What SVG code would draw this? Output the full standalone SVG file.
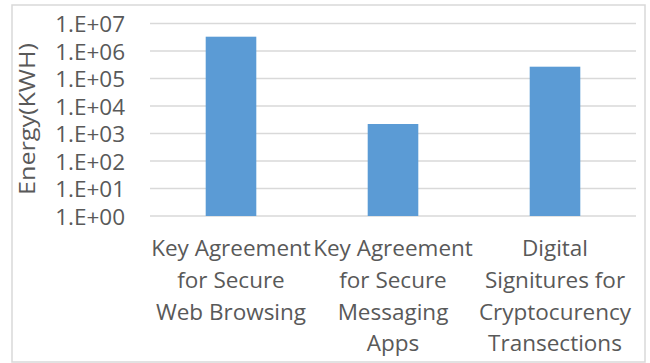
<svg xmlns="http://www.w3.org/2000/svg" width="650" height="363" viewBox="0 0 650 363">
  <style>
    .frame { fill: #ffffff; stroke: #d9d9d9; stroke-width: 1.5; }
    .grid { stroke: #d9d9d9; stroke-width: 1.5; fill: none; }
    .bar { fill: #5b9bd5; }
    .tick { font-family: "Open Sans", "Liberation Sans", sans-serif; font-size: 22.5px; fill: #595959; text-anchor: end; }
    .cat { font-family: "Open Sans", "Liberation Sans", sans-serif; font-size: 22.5px; fill: #595959; text-anchor: middle; }
    .title { font-family: "Open Sans", "Liberation Sans", sans-serif; font-size: 21px; fill: #595959; text-anchor: middle; }
  </style>
  <rect class="frame" x="12" y="5" width="633" height="357"/>

  <!-- horizontal gridlines, one per decade -->
  <g id="gridlines">
    <line class="grid" x1="150" y1="23.5" x2="636" y2="23.5"/>
    <line class="grid" x1="150" y1="51" x2="636" y2="51"/>
    <line class="grid" x1="150" y1="78.5" x2="636" y2="78.5"/>
    <line class="grid" x1="150" y1="106" x2="636" y2="106"/>
    <line class="grid" x1="150" y1="133.5" x2="636" y2="133.5"/>
    <line class="grid" x1="150" y1="161" x2="636" y2="161"/>
    <line class="grid" x1="150" y1="188.5" x2="636" y2="188.5"/>
    <line class="grid" x1="150" y1="216" x2="636" y2="216"/>
  </g>

  <!-- y-axis labels -->
  <g id="y-axis">
    <text class="tick" x="125" y="32">1.E+07</text>
    <text class="tick" x="125" y="59.5">1.E+06</text>
    <text class="tick" x="125" y="87">1.E+05</text>
    <text class="tick" x="125" y="114.5">1.E+04</text>
    <text class="tick" x="125" y="142">1.E+03</text>
    <text class="tick" x="125" y="169.5">1.E+02</text>
    <text class="tick" x="125" y="197">1.E+01</text>
    <text class="tick" x="125" y="224.5">1.E+00</text>
    <text class="title" transform="translate(35,119) rotate(-90)" textLength="152" lengthAdjust="spacingAndGlyphs">Energy(KWH)</text>
  </g>

  <!-- bars -->
  <g id="bar-web">
    <rect class="bar" x="205.7" y="36.7" width="50.6" height="179.3"/>
  </g>
  <g id="bar-messaging">
    <rect class="bar" x="367.7" y="124" width="50.6" height="92"/>
  </g>
  <g id="bar-crypto">
    <rect class="bar" x="529.7" y="66.7" width="50.6" height="149.3"/>
  </g>

  <!-- category labels -->
  <g id="label-web">
    <text class="cat" x="231" y="256">Key Agreement</text>
    <text class="cat" x="231" y="288">for Secure</text>
    <text class="cat" x="231" y="319.5">Web Browsing</text>
  </g>
  <g id="label-messaging">
    <text class="cat" x="393" y="256">Key Agreement</text>
    <text class="cat" x="393" y="288">for Secure</text>
    <text class="cat" x="393" y="319.5">Messaging</text>
    <text class="cat" x="393" y="351">Apps</text>
  </g>
  <g id="label-crypto">
    <text class="cat" x="555" y="256">Digital</text>
    <text class="cat" x="555" y="288">Signitures for</text>
    <text class="cat" x="555" y="319.5">Cryptocurency</text>
    <text class="cat" x="555" y="351">Transections</text>
  </g>
</svg>
